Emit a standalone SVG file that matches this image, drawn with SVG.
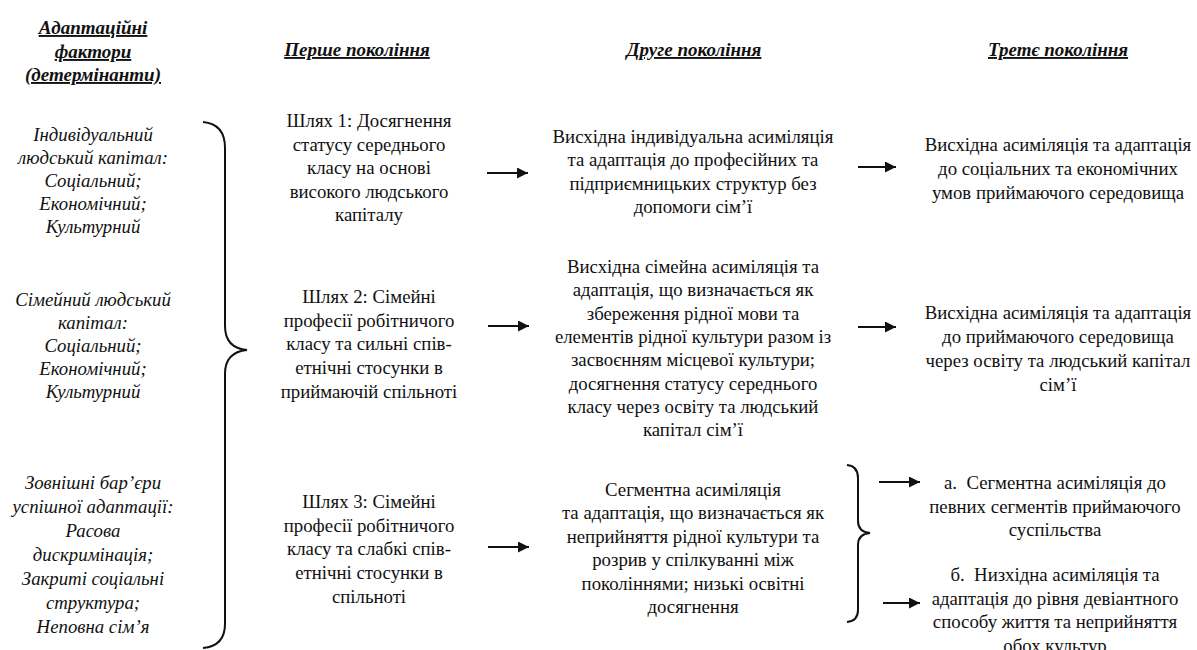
<svg xmlns="http://www.w3.org/2000/svg" width="1197" height="650" viewBox="0 0 1197 650">
<style>
text{font-family:"Liberation Serif","Times New Roman",serif;font-size:18.8px;fill:#111;text-anchor:middle}
.hd{font-weight:bold;font-style:italic;text-decoration:underline;font-size:19px}
.it{font-style:italic}
.ln{stroke:#111;stroke-width:2;fill:none}
</style>
<defs>
<marker id="ah" viewBox="0 0 10 10" refX="10" refY="5" markerWidth="5.5" markerHeight="5.5" orient="auto" markerUnits="strokeWidth">
<path d="M0,0 L10,5 L0,10 z" fill="#111"/>
</marker>
</defs>
<rect width="1197" height="650" fill="#fff"/>

<g id="headers">
<text class="hd" x="93" y="34">Адаптаційні</text>
<text class="hd" x="93" y="58">фактори</text>
<text class="hd" x="93" y="81">(детермінанти)</text>
<text class="hd" x="357" y="56">Перше покоління</text>
<text class="hd" x="694" y="56">Друге покоління</text>
<text class="hd" x="1058" y="56">Третє покоління</text>
</g>

<g id="factor-individual">
<text class="it" x="93" y="141">Індивідуальний<tspan x="93" dy="23">людський капітал:</tspan><tspan x="93" dy="23">Соціальний;</tspan><tspan x="93" dy="23">Економічний;</tspan><tspan x="93" dy="23">Культурний</tspan></text>
</g>
<g id="factor-family">
<text class="it" x="93" y="306">Сімейний людський<tspan x="93" dy="23">капітал:</tspan><tspan x="93" dy="23">Соціальний;</tspan><tspan x="93" dy="23">Економічний;</tspan><tspan x="93" dy="23">Культурний</tspan></text>
</g>
<g id="factor-barriers">
<text class="it" x="93" y="489">Зовнішні бар’єри<tspan x="93" dy="24">успішної адаптації:</tspan><tspan x="93" dy="24">Расова</tspan><tspan x="93" dy="24">дискримінація;</tspan><tspan x="93" dy="24">Закриті соціальні</tspan><tspan x="93" dy="24">структура;</tspan><tspan x="93" dy="24">Неповна сім’я</tspan></text>
</g>

<g id="path1">
<text x="369" y="127">Шлях 1: Досягнення<tspan x="369" dy="23.5">статусу середнього</tspan><tspan x="369" dy="23.5">класу на основі</tspan><tspan x="369" dy="23.5">високого людського</tspan><tspan x="369" dy="23.5">капіталу</tspan></text>
</g>
<g id="path2">
<text x="369" y="303">Шлях 2: Сімейні<tspan x="369" dy="23.7">професії робітничого</tspan><tspan x="369" dy="23.7">класу та сильні спів-</tspan><tspan x="369" dy="23.7">етнічні стосунки в</tspan><tspan x="369" dy="23.7">приймаючій спільноті</tspan></text>
</g>
<g id="path3">
<text x="369" y="508">Шлях 3: Сімейні<tspan x="369" dy="23.7">професії робітничого</tspan><tspan x="369" dy="23.7">класу та слабкі спів-</tspan><tspan x="369" dy="23.7">етнічні стосунки в</tspan><tspan x="369" dy="23.7">спільноті</tspan></text>
</g>

<g id="second1">
<text x="693" y="143">Висхідна індивідуальна асиміляція<tspan x="693" dy="23.3">та адаптація до професійних та</tspan><tspan x="693" dy="23.3">підприємницьких структур без</tspan><tspan x="693" dy="23.3">допомоги сім’ї</tspan></text>
</g>
<g id="second2">
<text x="693" y="273">Висхідна сімейна асиміляція та<tspan x="693" dy="23.3">адаптація, що визначається як</tspan><tspan x="693" dy="23.3">збереження рідної мови та</tspan><tspan x="693" dy="23.3">елементів рідної культури разом із</tspan><tspan x="693" dy="23.3">засвоєнням місцевої культури;</tspan><tspan x="693" dy="23.3">досягнення статусу середнього</tspan><tspan x="693" dy="23.3">класу через освіту та людський</tspan><tspan x="693" dy="23.3">капітал сім’ї</tspan></text>
</g>
<g id="second3">
<text x="693" y="496">Сегментна асиміляція<tspan x="693" dy="23.4">та адаптація, що визначається як</tspan><tspan x="693" dy="23.4">неприйняття рідної культури та</tspan><tspan x="693" dy="23.4">розрив у спілкуванні між</tspan><tspan x="693" dy="23.4">поколіннями; низькі освітні</tspan><tspan x="693" dy="23.4">досягнення</tspan></text>
</g>

<g id="third1">
<text x="1058" y="151">Висхідна асиміляція та адаптація<tspan x="1058" dy="24">до соціальних та економічних</tspan><tspan x="1058" dy="24">умов приймаючого середовища</tspan></text>
</g>
<g id="third2">
<text x="1058" y="319">Висхідна асиміляція та адаптація<tspan x="1058" dy="24">до приймаючого середовища</tspan><tspan x="1058" dy="24">через освіту та людський капітал</tspan><tspan x="1058" dy="24">сім’ї</tspan></text>
</g>
<g id="third3a">
<text x="1055" y="489">а.&#160; Сегментна асиміляція до<tspan x="1055" dy="23.5">певних сегментів приймаючого</tspan><tspan x="1055" dy="23.5">суспільства</tspan></text>
</g>
<g id="third3b">
<text x="1055" y="581">б.&#160; Низхідна асиміляція та<tspan x="1055" dy="23.5">адаптація до рівня девіантного</tspan><tspan x="1055" dy="23.5">способу життя та неприйняття</tspan><tspan x="1055" dy="23.5">обох культур</tspan></text>
</g>

<g id="connectors">
<path class="ln" d="M203,122 Q225,124 225,148 L225,326 Q225,348 247,350 Q225,352 225,374 L225,624 Q225,646 203,648"/>
<path class="ln" d="M847,465 Q858,466 858,478 L858,521 Q858,532 870,533 Q858,534 858,545 L858,610 Q858,621 847,622"/>
<line class="ln" x1="487" y1="173" x2="528" y2="173" marker-end="url(#ah)"/>
<line class="ln" x1="488" y1="326" x2="529" y2="326" marker-end="url(#ah)"/>
<line class="ln" x1="488" y1="547" x2="529" y2="547" marker-end="url(#ah)"/>
<line class="ln" x1="858" y1="167" x2="896" y2="167" marker-end="url(#ah)"/>
<line class="ln" x1="858" y1="327" x2="896" y2="327" marker-end="url(#ah)"/>
<line class="ln" x1="879" y1="482" x2="920" y2="482" marker-end="url(#ah)"/>
<line class="ln" x1="883" y1="603" x2="920" y2="603" marker-end="url(#ah)"/>
</g>
</svg>
